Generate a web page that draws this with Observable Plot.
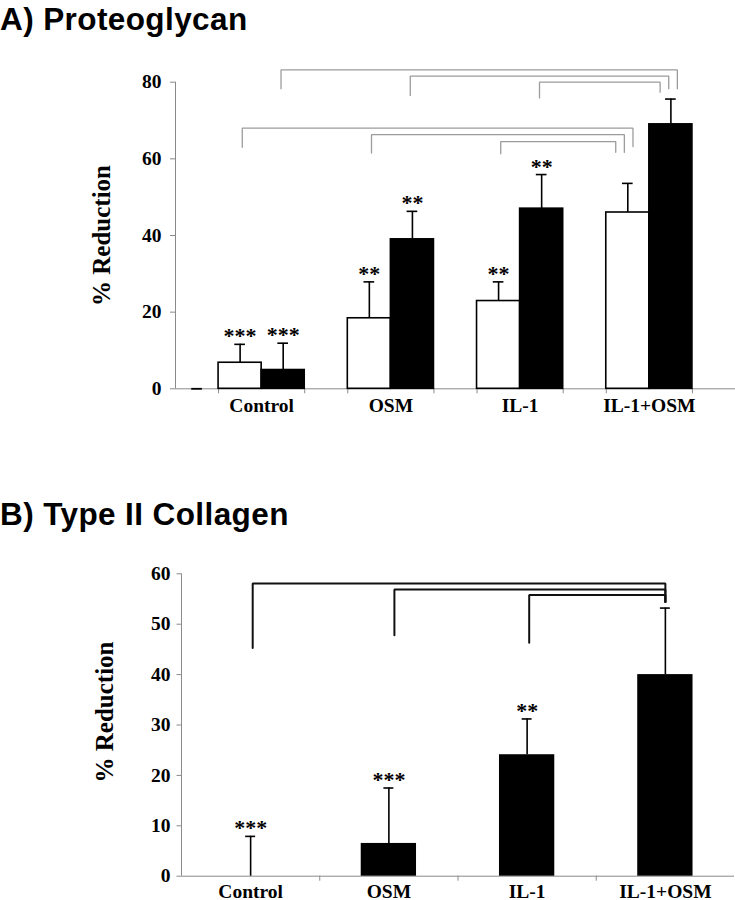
<!DOCTYPE html>
<html><head><meta charset="utf-8">
<script src="https://cdn.jsdelivr.net/npm/d3@7"></script>
<script src="https://cdn.jsdelivr.net/npm/@observablehq/plot@0.6"></script>
<style>
html,body{margin:0;padding:0;background:#fff;overflow:hidden;}
#page{position:relative;width:735px;height:900px;}
.title{position:absolute;left:0;font-family:"Liberation Sans",Arial,sans-serif;font-weight:bold;font-size:31.5px;letter-spacing:0.4px;line-height:36px;padding-top:1px;white-space:nowrap;color:#000;}
#titleA{top:0px;}
#titleB{top:495px;}
#chartA{position:absolute;left:0;top:40px;}
#chartB{position:absolute;left:0;top:540px;}
svg{overflow:visible;}
</style></head>
<body><div id="page">
<div class="title" id="titleA">A) Proteoglycan</div>
<div id="chartA"></div>
<div class="title" id="titleB">B) Type II Collagen</div>
<div id="chartB"></div>
</div>
<script>
const categories = ["Control", "OSM", "IL-1", "IL-1+OSM"];

// ---- Panel A: Proteoglycan (white and black series) ----
const pgWhite = [6.8, 18.4, 22.9, 46.0];
const pgWhiteSD = [4.8, 9.5, 5.0, 7.6];
const pgWhiteStars = ["***", "**", "**", ""];
const pgBlack = [4.9, 39.0, 47.0, 69.0];
const pgBlack_SD = [7.0, 7.3, 8.9, 6.6];
const pgBlackStars = ["***", "**", "**", ""];
const pgTicks = [0, 20, 40, 60, 80];
const pgReference = [0]; // zero-valued reference bar left of Control
// significance brackets, each from a category to "IL-1+OSM"
const pgBracketFrom = ["Control", "OSM", "IL-1"];
const pgBlackBracketLevel = [83.2, 81.6, 80.0];
const pgBlackBracketLeftEnd = [78.3, 76.5, 75.9];
const pgBlackBracketRightEnd = [78.3, 78.3, 77.4];
const pgWhiteBracketLevel = [68.0, 66.3, 64.5];
const pgWhiteBracketLeftEnd = [63.0, 61.5, 61.3];
const pgWhiteBracketRightEnd = [63.2, 61.7, 61.7];

// ---- Panel B: Type II Collagen ----
const colValues = [0, 6.5, 24.1, 40.0];
const colSD = [7.9, 11.0, 7.1, 13.2];
const colStars = ["***", "***", "**", ""];
const colTicks = [0, 10, 20, 30, 40, 50, 60];
const colBracketFrom = ["Control", "OSM", "IL-1"];
const colBracketLevel = [58.1, 56.9, 55.8];
const colBracketLeftEnd = [45.3, 47.8, 46.3];
const colBracketRightEnd = [54.4, 54.4, 54.4];

const serif = "'Liberation Serif','Times New Roman',serif";
const axisGray = "#8a8a8a";

// ================= Panel A =================
// x in "bar slots": each category uses 3 slots (white, black, gap)
const slotLeft = (i, s) => 3 * i + s;
const slotCenter = (i, s) => 3 * i + s + 0.5;
const capA = 0.124;

const rowsA = [];
categories.forEach((c, i) => {
  rowsA.push({cat: c, i, s: 0, value: pgWhite[i], sd: pgWhiteSD[i], star: pgWhiteStars[i]});
  rowsA.push({cat: c, i, s: 1, value: pgBlack[i], sd: pgBlack_SD[i], star: pgBlackStars[i]});
});
rowsA.forEach(d => { d.top = d.value + d.sd; d.cx = slotCenter(d.i, d.s); });

function bracketPts(from, targetX, level, lb, rb, fromX, prefix) {
  const pts = [];
  from.forEach((c, k) => {
    const x1 = fromX(categories.indexOf(c));
    const x2 = targetX(k);
    const id = prefix + k;
    pts.push({id, x: x1, y: lb[k]}, {id, x: x1, y: level[k]}, {id, x: x2, y: level[k]}, {id, x: x2, y: rb[k]});
  });
  return pts;
}
const last = categories.length - 1;
const bracketsA = [
  ...bracketPts(pgBracketFrom, k => slotCenter(last, 1) + 0.15 - 0.2 * k,
    pgBlackBracketLevel, pgBlackBracketLeftEnd, pgBlackBracketRightEnd, i => slotCenter(i, 1) - 0.05, "b"),
  ...bracketPts(pgBracketFrom, k => slotCenter(last, 0) + 0.12 - 0.2 * k,
    pgWhiteBracketLevel, pgWhiteBracketLeftEnd, pgWhiteBracketRightEnd, i => slotCenter(i, 0) + 0.05, "w")
];

const edgeTicksA = categories.flatMap((c, i) => [slotLeft(i, 0), slotLeft(i, 2)]);
const labelTicksA = categories.map((c, i) => slotLeft(i, 1));

const chartA = Plot.plot({
  width: 735, height: 400,
  marginLeft: 175, marginRight: 0, marginTop: 41.7, marginBottom: 51.7,
  x: {domain: [-1, 12]},
  y: {domain: [0, 80]},
  style: {fontFamily: serif, background: "white", color: "black"},
  marks: [
    Plot.ruleX([-1], {stroke: axisGray, strokeWidth: 1}),
    Plot.ruleY([0], {stroke: axisGray, strokeWidth: 1}),
    Plot.axisY({ticks: pgTicks, tickSize: 5, tickPadding: 9, stroke: axisGray,
      fontSize: 19.5, fontWeight: "bold", label: null}),
    Plot.axisX({ticks: edgeTicksA, tickSize: 5, stroke: axisGray, tickFormat: () => "", label: null}),
    Plot.axisX({ticks: labelTicksA, tickSize: 0, tickPadding: 9,
      tickFormat: v => categories[Math.round((v - 1) / 3)], fontSize: 19.5, fontWeight: "bold", label: null}),
    Plot.text(["% Reduction"], {frameAnchor: "left", rotate: -90, dx: -74, text: d => d,
      fontSize: 25, fontWeight: "bold", textAnchor: "middle"}),
    Plot.line(bracketsA, {x: "x", y: "y", z: "id", stroke: "#9c9c9c", strokeWidth: 1.3, strokeLinejoin: "miter"}),
    Plot.ruleY(pgReference, {y: d => d, x1: slotCenter(0, 0) - 1 - capA, x2: slotCenter(0, 0) - 1 + capA,
      stroke: "black", strokeWidth: 1.8}),
    Plot.ruleX(rowsA, {x: "cx", y1: "value", y2: "top", stroke: "black", strokeWidth: 1.6}),
    Plot.ruleY(rowsA, {y: "top", x1: d => d.cx - capA, x2: d => d.cx + capA, stroke: "black", strokeWidth: 1.6}),
    Plot.rectY(rowsA, {x1: d => slotLeft(d.i, d.s), x2: d => slotLeft(d.i, d.s) + 1, y1: 0, y2: "value",
      fill: d => d.s ? "black" : "white", stroke: "black", strokeWidth: 1.6}),
    Plot.text(rowsA, {x: "cx", y: "top", text: "star", lineAnchor: "bottom", dy: -1,
      fontSize: 22, fontWeight: "bold"})
  ]
});
document.getElementById("chartA").appendChild(chartA);

// ================= Panel B =================
const capB = 0.036;
const halfBar = 0.2;
const rowsB = categories.map((c, i) => ({cat: c, i, cx: i + 0.5, value: colValues[i], sd: colSD[i],
  top: colValues[i] + colSD[i], star: colStars[i]}));
const bracketsB = bracketPts(colBracketFrom, k => last + 0.5,
  colBracketLevel, colBracketLeftEnd, colBracketRightEnd, i => i + 0.5 + (i === 1 ? 0.04 : 0.015), "c");

const chartB = Plot.plot({
  width: 735, height: 360,
  marginLeft: 181, marginRight: 1, marginTop: 33.3, marginBottom: 24.3,
  x: {domain: [0, categories.length]},
  y: {domain: [0, 60]},
  style: {fontFamily: serif, background: "white", color: "black"},
  marks: [
    Plot.ruleX([0], {stroke: axisGray, strokeWidth: 1}),
    Plot.ruleY([0], {stroke: axisGray, strokeWidth: 1}),
    Plot.axisY({ticks: colTicks, tickSize: 4.5, tickPadding: 6.5, stroke: axisGray,
      fontSize: 19.5, fontWeight: "bold", label: null}),
    Plot.axisX({ticks: categories.slice(1).map((c, i) => i + 1), tickSize: 5, stroke: axisGray,
      tickFormat: () => "", label: null}),
    Plot.axisX({ticks: categories.map((c, i) => i + 0.5), tickSize: 0, tickPadding: 7.5,
      tickFormat: v => categories[Math.round(v - 0.5)], fontSize: 19.5, fontWeight: "bold", label: null}),
    Plot.text(["% Reduction"], {frameAnchor: "left", rotate: -90, dx: -77, dy: -13, text: d => d,
      fontSize: 25, fontWeight: "bold", textAnchor: "middle"}),
    Plot.line(bracketsB, {x: "x", y: "y", z: "id", stroke: "#111", strokeWidth: 2, strokeLinejoin: "miter"}),
    Plot.ruleX(rowsB, {x: "cx", y1: "value", y2: "top", stroke: "black", strokeWidth: 1.6}),
    Plot.ruleY(rowsB, {y: "top", x1: d => d.cx - capB, x2: d => d.cx + capB, stroke: "black", strokeWidth: 1.6}),
    Plot.rectY(rowsB, {x1: d => d.cx - halfBar, x2: d => d.cx + halfBar, y1: 0, y2: "value", fill: "black"}),
    Plot.text(rowsB, {x: "cx", y: "top", text: "star", lineAnchor: "bottom", dy: -1,
      fontSize: 22, fontWeight: "bold"})
  ]
});
document.getElementById("chartB").appendChild(chartB);
</script>
</body></html>
